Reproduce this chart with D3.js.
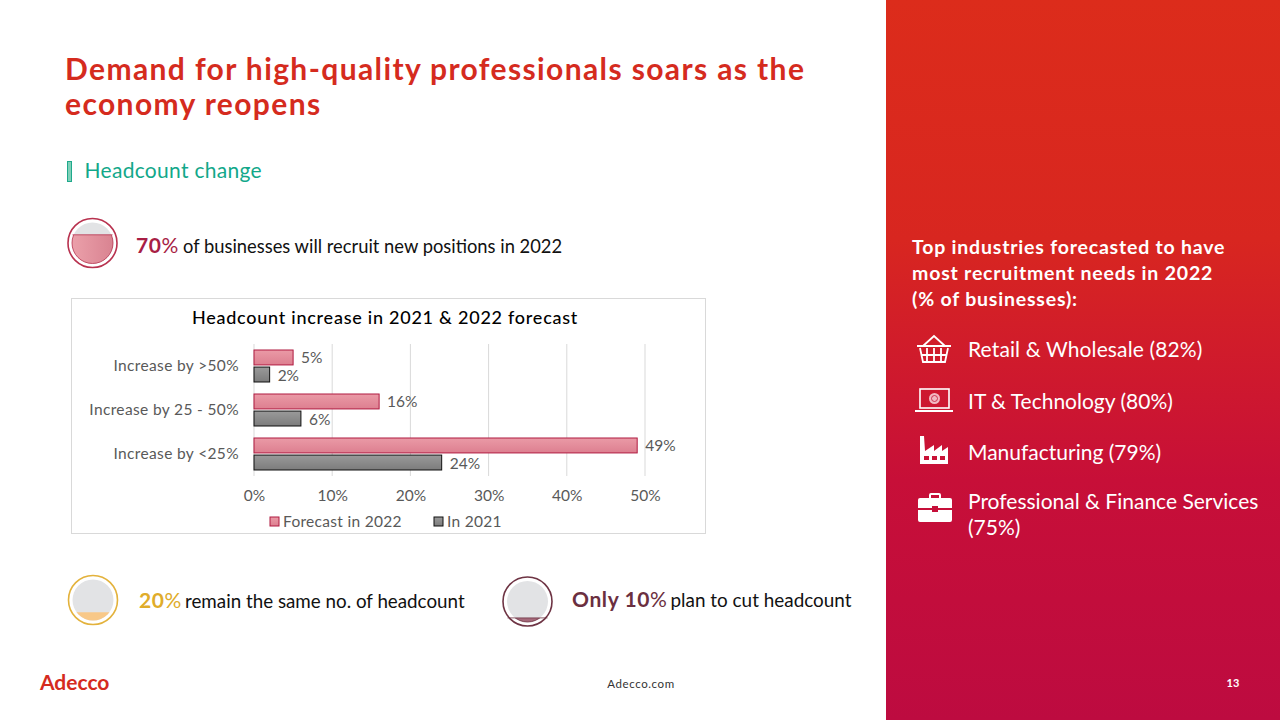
<!DOCTYPE html>
<html lang="en">
<head>
    <meta charset="UTF-8">
    <title>Headcount change</title>
    <script src="https://d3js.org/d3.v7.min.js"></script>
    <style>
        html, body { margin: 0; padding: 0; background: #fff; }
        svg { display: block; }
        text { font-family: Lato, "Noto Sans", sans-serif; }
    </style>
</head>
<body>
    <div id="chart-container"></div>

    <script>
        // Chart data
        const categories = ["Increase by >50%", "Increase by 25 - 50%", "Increase by <25%"];
        const forecast2022 = [5, 16, 49];
        const in2021 = [2, 6, 24];
        const xTicks = [0, 10, 20, 30, 40, 50];
        const seriesNames = ["Forecast in 2022", "In 2021"];

        // Gauge circles
        const gaugeValues = [70, 20, 10];

        // Right panel text
        const industries = ["Retail & Wholesale (82%)", "IT & Technology (80%)", "Manufacturing (79%)"];

        const svg = d3.select("#chart-container")
            .append("svg")
            .attr("width", 1280)
            .attr("height", 720);

        const defs = svg.append("defs");

        function addGradient(id, stops, x2, y2) {
            const g = defs.append("linearGradient").attr("id", id)
                .attr("x1", 0).attr("y1", 0).attr("x2", x2).attr("y2", y2);
            stops.forEach((c, i) => g.append("stop").attr("offset", i / (stops.length - 1)).attr("stop-color", c));
        }
        addGradient("panelGrad", ["#dc2c1b", "#d82620", "#c70f38", "#bd0b40"], 0, 1);
        addGradient("pinkBar", ["#ea9aa6", "#dd7f90"], 0, 1);
        addGradient("greyBar", ["#9a9a9a", "#7c7c7c"], 0, 1);
        addGradient("pinkGauge", ["#eba0aa", "#d98391"], 1, 0);

        // Background panel
        svg.append("rect").attr("x", 886).attr("y", 0).attr("width", 394).attr("height", 720)
            .attr("fill", "url(#panelGrad)");

        // Title
        const titleColor = "#d52b1e";
        ["Demand for high-quality professionals soars as the", "economy reopens"].forEach((t, i) => {
            svg.append("text").attr("x", 65).attr("y", 80 + i * 35)
                .attr("font-size", 30).attr("font-weight", 700).attr("fill", titleColor)
                .attr("letter-spacing", 1.38)
                .text(t);
        });

        // Section heading
        svg.append("rect").attr("x", 67.5).attr("y", 161.5).attr("width", 4).attr("height", 20)
            .attr("fill", "#7fd0b8").attr("stroke", "#1fa98c").attr("stroke-width", 1);
        svg.append("text").attr("x", 84.5).attr("y", 178).attr("font-size", 21).attr("fill", "#12a88a")
            .attr("letter-spacing", 0.3)
            .text("Headcount change");

        // Gauge: ring plus a grey circle filled up to the value
        function gauge(cx, cy, value, ring, fill, idx) {
            const r = 20.5;
            const level = d3.scaleLinear().domain([0, 100]).range([cy + r, cy - r]);
            svg.append("circle").attr("cx", cx).attr("cy", cy).attr("r", 24.5)
                .attr("fill", "#fff").attr("stroke", ring).attr("stroke-width", 1.6);
            svg.append("circle").attr("cx", cx).attr("cy", cy).attr("r", r).attr("fill", "#e2e3e5");
            defs.append("clipPath").attr("id", "gaugeClip" + idx)
                .append("rect").attr("x", cx - 30).attr("y", level(value))
                .attr("width", 60).attr("height", cy + 30 - level(value));
            svg.append("circle").attr("cx", cx).attr("cy", cy).attr("r", r)
                .attr("fill", fill).attr("stroke", idx === 1 ? "none" : ring).attr("stroke-width", 0.8)
                .attr("clip-path", `url(#gaugeClip${idx})`);
            if (idx !== 1) {
                svg.append("line").attr("x1", cx - 20).attr("x2", cx + 20)
                    .attr("y1", level(value)).attr("y2", level(value))
                    .attr("stroke", ring).attr("stroke-width", 0.8);
            }
        }
        gauge(92.5, 243, gaugeValues[0], "#b8324f", "url(#pinkGauge)", 0);
        gauge(93, 600, gaugeValues[1], "#e3b23c", "#f8c888", 1);
        gauge(527.5, 601.5, gaugeValues[2], "#6e3444", "#a5697a", 2);

        // Callout lines, the % sign is lighter than the number
        function callout(x, y, big, bigColor, rest, size, dx) {
            const t = svg.append("text").attr("x", x).attr("y", y).attr("fill", "#111").attr("font-size", size);
            t.append("tspan").attr("font-size", 21).attr("font-weight", 700).attr("fill", bigColor)
                .attr("letter-spacing", 0.6).text(big);
            t.append("tspan").attr("font-size", 21).attr("fill", bigColor).attr("letter-spacing", 0.6).text("%");
            t.append("tspan").attr("dx", dx).text(rest);
        }
        callout(136, 253, `${gaugeValues[0]}`, "#a81e45", "of businesses will recruit new positions in 2022", 18.35, 4);
        callout(139, 608, `${gaugeValues[1]}`, "#e0ac2a", "remain the same no. of headcount", 18.8, 3);
        callout(572, 607, `Only ${gaugeValues[2]}`, "#6b2f40", "plan to cut headcount", 18.9, 3);

        // Chart box
        svg.append("rect").attr("x", 71.5).attr("y", 298.5).attr("width", 634).attr("height", 235)
            .attr("fill", "#fff").attr("stroke", "#d9d9d9");
        svg.append("text").attr("x", 385).attr("y", 324).attr("text-anchor", "middle")
            .attr("font-size", 18).attr("font-weight", 500).attr("fill", "#000").attr("letter-spacing", 0.75)
            .text("Headcount increase in 2021 & 2022 forecast");

        const x = d3.scaleLinear().domain([0, 50]).range([254, 645]);
        const y = d3.scaleBand().domain(categories).range([344, 476]);
        const ySeries = d3.scaleBand().domain(seriesNames).range([6, 38]).paddingInner(0.125);

        // Gridlines and axes
        svg.append("g").selectAll("line").data(xTicks).enter().append("line")
            .attr("x1", d => x(d)).attr("x2", d => x(d))
            .attr("y1", 344).attr("y2", 476)
            .attr("stroke", "#d9d9d9").attr("stroke-width", 1);

        const xAxis = svg.append("g").attr("transform", "translate(0,476)")
            .call(d3.axisBottom(x).tickValues(xTicks).tickFormat(d => d + "%").tickSize(0).tickPadding(14));
        xAxis.select(".domain").remove();
        xAxis.selectAll("text").attr("font-size", 15.5).attr("fill", "#595959");

        const yAxis = svg.append("g").attr("transform", "translate(254,0)")
            .call(d3.axisLeft(y).tickSize(0).tickPadding(15));
        yAxis.select(".domain").remove();
        yAxis.selectAll("text").attr("font-size", 15.5).attr("fill", "#595959").attr("letter-spacing", 0.36);

        // Bars
        const series = [
            { name: seriesNames[0], values: forecast2022, fill: "url(#pinkBar)", stroke: "#b01a40" },
            { name: seriesNames[1], values: in2021, fill: "url(#greyBar)", stroke: "#111" }
        ];
        series.forEach(s => {
            const rows = categories.map((c, i) => ({ c, v: s.values[i] }));
            svg.append("g").selectAll("rect").data(rows).enter().append("rect")
                .attr("x", x(0))
                .attr("y", d => y(d.c) + ySeries(s.name))
                .attr("width", d => x(d.v) - x(0))
                .attr("height", ySeries.bandwidth())
                .attr("fill", s.fill).attr("stroke", s.stroke).attr("stroke-width", 1);
            svg.append("g").selectAll("text").data(rows).enter().append("text")
                .attr("x", d => x(d.v) + 8)
                .attr("y", d => y(d.c) + ySeries(s.name) + ySeries.bandwidth() / 2 + 6)
                .attr("font-size", 15.5).attr("fill", "#595959")
                .text(d => d.v + "%");
        });

        // Legend
        const legendX = [270, 434];
        series.forEach((s, i) => {
            svg.append("rect").attr("x", legendX[i]).attr("y", 517).attr("width", 9).attr("height", 9)
                .attr("fill", s.fill).attr("stroke", s.stroke);
            svg.append("text").attr("x", legendX[i] + 13).attr("y", 527)
                .attr("font-size", 15.5).attr("fill", "#595959").attr("letter-spacing", 0.3)
                .text(s.name);
        });

        // Right panel heading
        ["Top industries forecasted to have", "most recruitment needs in 2022", "(% of businesses):"].forEach((t, i) => {
            svg.append("text").attr("x", 912).attr("y", 254 + i * 26)
                .attr("font-size", 19.5).attr("font-weight", 700).attr("fill", "#fff").attr("letter-spacing", 0.8)
                .text(t);
        });

        // Right panel list
        const panelText = (px, py, t) => svg.append("text").attr("x", px).attr("y", py)
            .attr("font-size", 21).attr("fill", "#fff").text(t);
        panelText(968, 357, industries[0]).attr("letter-spacing", 0.12);
        panelText(968, 409, industries[1]);
        panelText(968, 460, industries[2]);
        panelText(968, 509, "Professional & Finance Services");
        panelText(968, 535, "(75%)");

        // Icons
        const icons = svg.append("g");
        // basket
        const basket = icons.append("g").attr("transform", "translate(917,335)")
            .attr("fill", "none").attr("stroke", "#fff").attr("stroke-width", 1.8);
        basket.append("path").attr("d", "M6 11 L17 1 L28 11 M0 11 H34 M3 13 L6 27 H28 L31 13 M10 13 V27 M17 13 V27 M24 13 V27 M4 20 H30");
        // laptop
        const laptop = icons.append("g").attr("transform", "translate(915,388)");
        laptop.append("rect").attr("x", 5).attr("y", 1).attr("width", 29).attr("height", 19)
            .attr("fill", "none").attr("stroke", "#fff").attr("stroke-width", 1.6);
        laptop.append("circle").attr("cx", 19.5).attr("cy", 10.5).attr("r", 5.5).attr("fill", "#f2b9c2");
        laptop.append("circle").attr("cx", 19.5).attr("cy", 10.5).attr("r", 3).attr("fill", "none")
            .attr("stroke", "#c2183a").attr("stroke-width", 0.8);
        laptop.append("rect").attr("x", 0).attr("y", 22).attr("width", 38).attr("height", 2).attr("fill", "#fff");
        // factory
        icons.append("path").attr("transform", "translate(920,436)").attr("fill", "#fff")
            .attr("fill-rule", "evenodd")
            .attr("d", "M0 0 H4 L5 15 L14 9 V15 L22 9 V15 L28 11 V28 H0 Z M4 20 V24 H9 V20 Z M12 20 V24 H17 V20 Z M20 20 V24 H25 V20 Z");
        // briefcase
        icons.append("path").attr("transform", "translate(918,493)").attr("fill", "#fff")
            .attr("fill-rule", "evenodd")
            .attr("d", "M11 5 V2 Q11 0 13 0 H21 Q23 0 23 2 V5 H32 Q34 5 34 7 V15 H20 V13 H14 V15 H0 V7 Q0 5 2 5 Z M13 5 H21 V2 H13 Z M0 17 H14 V19 H20 V17 H34 V27 Q34 29 32 29 H2 Q0 29 0 27 Z");

        // Footer
        svg.append("text").attr("x", 40).attr("y", 690).attr("font-size", 21).attr("font-weight", 700)
            .attr("fill", "#d52b1e").text("Adecco");
        svg.append("text").attr("x", 641).attr("y", 688).attr("text-anchor", "middle")
            .attr("font-size", 11.5).attr("fill", "#333").attr("letter-spacing", 0.6).text("Adecco.com");
        svg.append("text").attr("x", 1233).attr("y", 687).attr("text-anchor", "middle")
            .attr("font-size", 11).attr("font-weight", 700).attr("fill", "#fff").text("13");
    </script>
</body>
</html>
